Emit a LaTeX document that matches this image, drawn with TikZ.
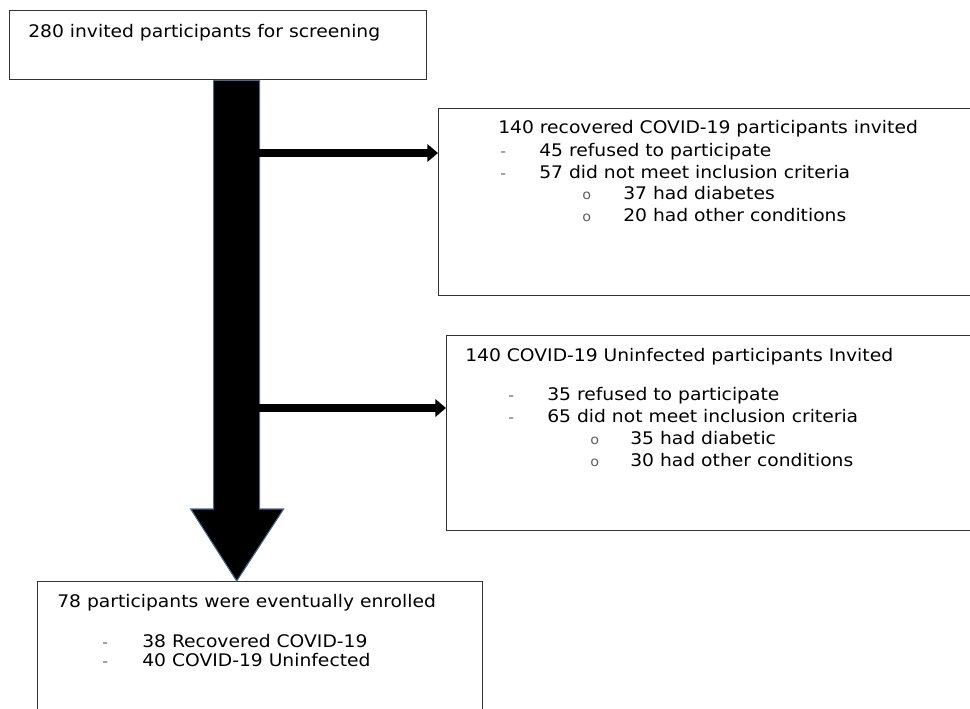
\documentclass[tikz,border=0pt]{standalone}
\usepackage{fontspec}
\setmainfont[FakeStretch=1.08]{DejaVu Sans}
\usetikzlibrary{calc,arrows.meta}

\definecolor{edgegray}{RGB}{50,50,50}
\definecolor{trunkedge}{RGB}{75,105,145}
\definecolor{bulgray}{RGB}{95,95,95}

\tikzset{
  box/.style={draw=edgegray, line width=1pt, anchor=north west, inner sep=0pt},
  txt/.style={anchor=west, inner sep=0pt, font=\fontsize{13}{15}\selectfont,
    text height=9.5pt, text depth=1pt},
  dashbul/.style={anchor=west, inner sep=0pt, text=bulgray,
    font=\fontsize{11}{12}\selectfont, text height=9.5pt, text depth=1pt},
  circbul/.style={anchor=west, inner sep=0pt, text=bulgray,
    font=\fontsize{10}{12}\selectfont, text height=9.5pt, text depth=1pt},
  side/.style={line width=6pt, -{Triangle[length=8pt,width=13pt]}},
  trunkarrow/.style={fill=black, draw=trunkedge, line width=0.8pt}
}

\begin{document}
\begin{tikzpicture}[x=0.75pt,y=-0.75pt]
  \useasboundingbox (0,0) rectangle (970,709);

  %% Boxes
  \node[box, minimum width=312.75pt, minimum height=51.75pt] (screen) at (9,10) {};
  \node[box, minimum width=405pt, minimum height=140.25pt] (recov) at (438,108) {};
  \node[box, minimum width=397.5pt, minimum height=146.25pt] (uninf) at (446,335) {};
  \node[box, minimum width=333.75pt, minimum height=105pt] (enrol) at (37,581) {};

  %% Main trunk arrow
  \coordinate (tt) at ($(screen.south)+(18.5,0)$);
  \coordinate (tip) at (tt |- enrol.north);
  \filldraw[trunkarrow] ($(tt)+(-23,0)$) -- ($(tip)+(-23,-72)$) -- ($(tip)+(-46,-72)$)
    -- (tip) -- ($(tip)+(47,-72)$) -- ($(tip)+(23,-72)$) -- ($(tt)+(23,0)$) -- cycle;

  %% Side arrows
  \coordinate (s1) at (259,153);
  \coordinate (s2) at (259,408);
  \draw[side] (s1) -- (s1 -| recov.west);
  \draw[side] (s2) -- (s2 -| uninf.west);

  %% Texts
  \node[txt] (t0) at (28,32) {280 invited participants for screening};

  \node[txt] (r0) at (498,128) {140 recovered COVID-19 participants invited};
  \foreach \n/\y/\t in {1/151/45 refused to participate, 2/173/57 did not meet inclusion criteria}
  {
    \node[dashbul] (rd\n) at (500,\y) {-};
    \node[txt] (r\n) at (539,\y) {\t};
  }
  \foreach \n/\y/\t in {3/194/37 had diabetes, 4/216/20 had other conditions}
  {
    \node[circbul] (rc\n) at (582,\y) {o};
    \node[txt] (r\n) at (623,\y) {\t};
  }

  \node[txt] (u0) at (465,356) {140 COVID-19 Uninfected participants Invited};
  \foreach \n/\y/\t in {1/395/35 refused to participate, 2/417/65 did not meet inclusion criteria}
  {
    \node[dashbul] (ud\n) at (508,\y) {-};
    \node[txt] (u\n) at (547,\y) {\t};
  }
  \foreach \n/\y/\t in {3/439/35 had diabetic, 4/461/30 had other conditions}
  {
    \node[circbul] (uc\n) at (590,\y) {o};
    \node[txt] (u\n) at (630,\y) {\t};
  }

  \node[txt] (e0) at (57,602) {78 participants were eventually enrolled};
  \foreach \n/\y/\t in {1/642/38 Recovered COVID-19, 2/661/40 COVID-19 Uninfected}
  {
    \node[dashbul] (ed\n) at (102,\y) {-};
    \node[txt] (e\n) at (142,\y) {\t};
  }
\end{tikzpicture}
\end{document}
